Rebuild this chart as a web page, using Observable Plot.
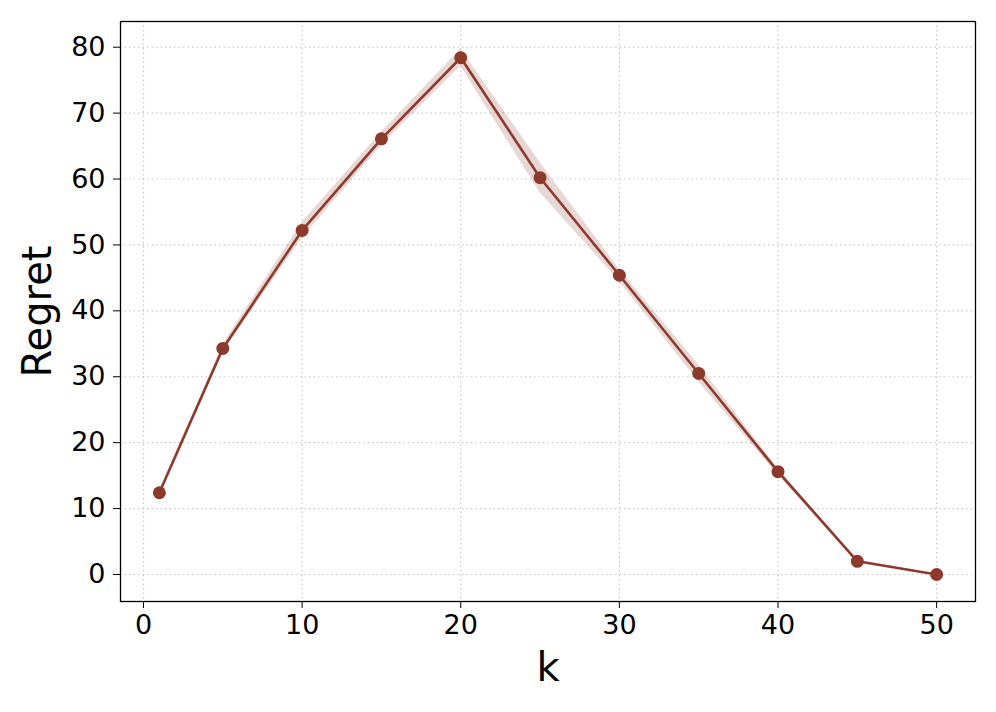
<!DOCTYPE html>
<html>
<head>
<meta charset="utf-8">
<script src="https://cdn.jsdelivr.net/npm/d3@7"></script>
<script src="https://cdn.jsdelivr.net/npm/@observablehq/plot@0.6"></script>
<style>
  html, body { margin: 0; padding: 0; background: #fff; }
  #chart svg { display: block; }
</style>
</head>
<body>
<div id="chart"></div>
<script>
const kValues = [1, 5, 10, 15, 20, 25, 30, 35, 40, 45, 50];
const regretMean = [12.4, 34.3, 52.2, 66.1, 78.4, 60.2, 45.4, 30.5, 15.6, 2.0, 0.0];
const regretStd = [0.3, 0.6, 1.2, 1.0, 1.3, 2.3, 0.9, 1.3, 0.5, 0.2, 0.0];
const xTicks = [0, 10, 20, 30, 40, 50];
const yTicks = [0, 10, 20, 30, 40, 50, 60, 70, 80];

const data = kValues.map((k, i) => ({
  k, mean: regretMean[i], lo: regretMean[i] - regretStd[i], hi: regretMean[i] + regretStd[i]
}));

const color = "#8c3a2c";
const font = "DejaVu Sans, sans-serif";

const chart = Plot.plot({
  width: 996,
  height: 712,
  marginLeft: 120,
  marginRight: 21,
  marginTop: 21,
  marginBottom: 111,
  style: { fontFamily: font, background: "#fff" },
  x: { domain: [-1.45, 52.45] },
  y: { domain: [-4.1, 83.9] },
  marks: [
    Plot.gridX(xTicks, { stroke: "#b0b0b0", strokeOpacity: 0.7, strokeDasharray: "1.5,3", strokeWidth: 1.2 }),
    Plot.gridY(yTicks, { stroke: "#b0b0b0", strokeOpacity: 0.7, strokeDasharray: "1.5,3", strokeWidth: 1.2 }),
    Plot.areaY(data, { x: "k", y1: "lo", y2: "hi", fill: color, fillOpacity: 0.2 }),
    Plot.line(data, { x: "k", y: "mean", stroke: color, strokeWidth: 2.6 }),
    Plot.dot(data, { x: "k", y: "mean", r: 6.5, fill: color, stroke: "none" }),
    Plot.frame({ stroke: "#000", strokeWidth: 1.3 }),
    Plot.axisX(xTicks, { tickSize: 7, tickPadding: 6, fontSize: 27, label: null, stroke: "#000", color: "#000" }),
    Plot.axisY(yTicks, { tickSize: 7, tickPadding: 8, fontSize: 27, label: null, stroke: "#000", color: "#000" }),
    Plot.text(["k"], { frameAnchor: "bottom", lineAnchor: "middle", textAnchor: "middle", dy: 67, fontSize: 40, fill: "#000" }),
    Plot.text(["Regret"], { frameAnchor: "left", lineAnchor: "middle", textAnchor: "middle", dx: -82, rotate: -90, fontSize: 40, fill: "#000" })
  ]
});
document.getElementById("chart").appendChild(chart);
</script>
</body>
</html>
